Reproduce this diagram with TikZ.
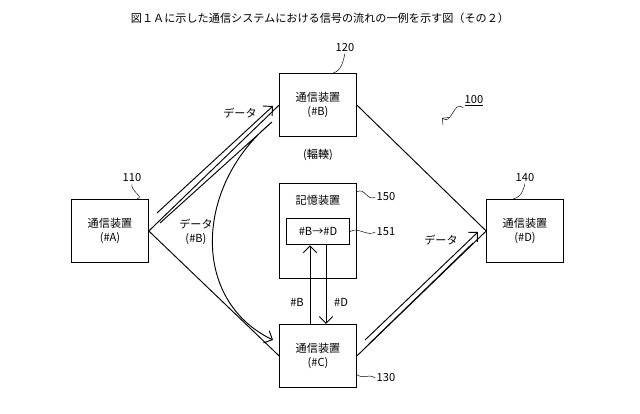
\documentclass[tikz,border=0pt]{standalone}
\usepackage{fontspec}
\setmainfont{Noto Sans CJK JP}
\usetikzlibrary{arrows.meta}
\begin{document}
\begin{tikzpicture}[x=0.3mm,y=-0.3mm,font=\fontsize{9.5}{12}\selectfont,
  devbox/.style={draw, thick, minimum width=23mm, minimum height=19mm, align=center},
  refnum/.style={inner sep=1pt},
  dataflow/.style={thick, -{Straight Barb[length=2mm]}},
  squig/.style={thin}]
  \useasboundingbox (0,0) rectangle (640,414);

  \node at (320,18) {図１Ａに示した通信システムにおける信号の流れの一例を示す図（その２）};

  % devices
  \node[devbox] (devA) at (110,231) {通信装置\\(\#A)};
  \node[devbox] (devB) at (318,105) {通信装置\\(\#B)};
  \node[devbox] (devC) at (318,356) {通信装置\\(\#C)};
  \node[devbox] (devD) at (525,231) {通信装置\\(\#D)};
  \node[draw, thick, minimum width=23mm, minimum height=28.5mm] (mem) at (318,230.5) {};
  \node (memlbl) at (318,200) {記憶装置};
  \node[draw, thick, minimum width=19mm, minimum height=8mm] (tbl) at (318,231.5) {\#B→\#D};

  % links
  \draw[thick] (devA.east) -- (devB.west);
  \draw[thick] (devA.east) -- (devC.west);
  \draw[thick] (devB.east) -- (devD.west);
  \draw[thick] (devC.east) -- (devD.west);

  % data flows
  \coordinate (ab1) at (157,213); \coordinate (ab2) at (273,106);
  \draw[dataflow] (ab1) -- (ab2);
  \coordinate (rl1) at (160,223); \coordinate (rl2) at (272,122); \coordinate (rl3) at (273,340);
  \draw[dataflow] (rl1) -- (rl2) .. controls (195,185) and (190,300) .. (rl3);
  \coordinate (cd1) at (365,340); \coordinate (cd2) at (478,232);
  \draw[dataflow] (cd1) -- (cd2);
  \coordinate (cd3) at (368,345); \coordinate (cd4) at (473,243);
  \draw[thick] (cd3) -- (cd4);
  \node at (240,113) {データ};
  \node[align=center] at (196,232) {データ\\(\#B)};
  \node at (441,240) {データ};
  \node at (318,155) {(輻輳)};

  % table lookup
  \draw[dataflow] (devC.north -| 310,0) -- (tbl.south -| 310,0);
  \draw[dataflow] (tbl.south -| 326,0) -- (devC.north -| 326,0);
  \node at (297,302) {\#B};
  \node at (341,302) {\#D};

  % reference numbers
  \node[refnum] (n110) at (132,178) {110};
  \node[refnum] (n120) at (345,48) {120};
  \node[refnum] (n140) at (525,178) {140};
  \node[refnum] (n150) at (386,197) {150};
  \node[refnum] (n151) at (386,232) {151};
  \node[refnum] (n130) at (386,378) {130};
  \node[refnum] (n100) at (474,101) {\underline{100}};
  \coordinate (p100) at (442,118);
  \draw[squig] (n110.south) .. controls +(-2,8) and +(8,-2) .. ([xshift=-10]devA.north east);
  \draw[squig] (n120.south) .. controls +(-2,8) and +(8,-2) .. ([xshift=-20]devB.north east);
  \draw[squig] (n140.south) .. controls +(-2,8) and +(8,-2) .. ([xshift=-10]devD.north);
  \draw[squig] (n150.west) .. controls +(-8,5) and +(8,-5) .. ([yshift=-8]mem.north east);
  \draw[squig] (n151.west) .. controls +(-8,5) and +(8,-5) .. (tbl.east);
  \draw[squig] (n130.west) .. controls +(-8,-5) and +(8,5) .. ([yshift=-16]devC.east);
  \draw[squig,-{Straight Barb[length=1.5mm]}] (n100.south west) .. controls +(-10,-8) and +(10,8) .. (p100);
\end{tikzpicture}
\end{document}
